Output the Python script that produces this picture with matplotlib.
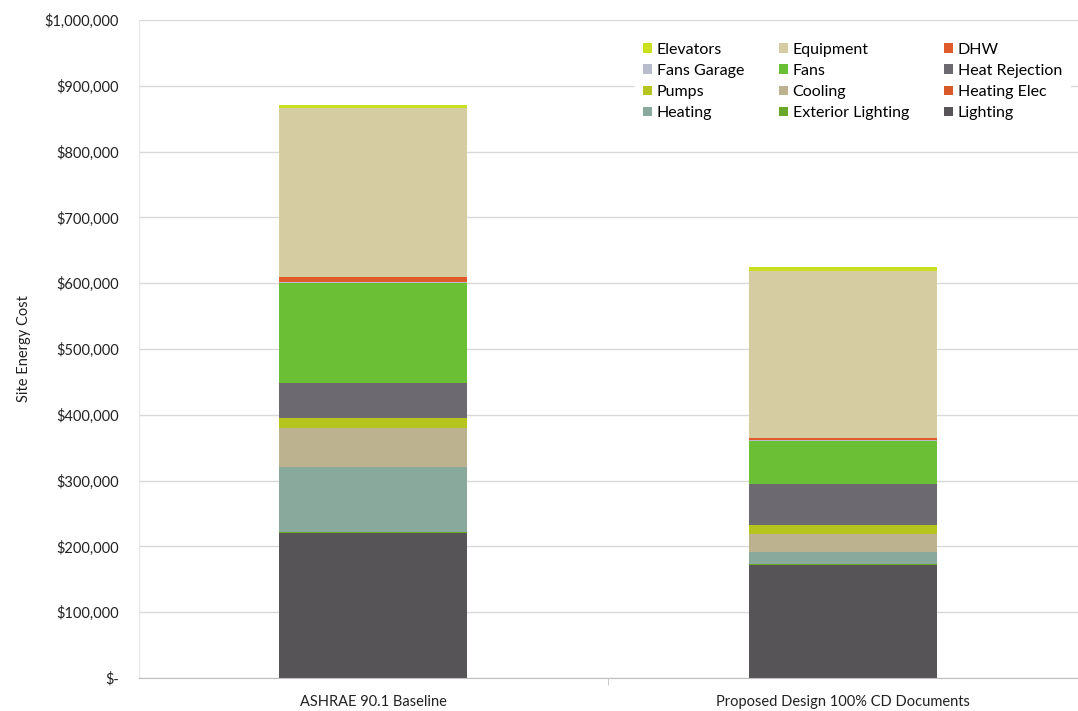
import numpy as np
import matplotlib.pyplot as plt
from matplotlib.ticker import FuncFormatter

plt.rcParams['font.family'] = ['Lato', 'DejaVu Sans']

scenarios = ['ASHRAE 90.1 Baseline', 'Proposed Design 100% CD Documents']

# end uses, bottom of the stack first
end_uses = ['Lighting', 'Exterior Lighting', 'Heating', 'Heating Elec', 'Cooling',
            'Pumps', 'Heat Rejection', 'Fans', 'Fans Garage', 'DHW', 'Equipment', 'Elevators']

# annual cost per end use ($), [baseline, proposed]
lighting = [220000, 172000]
exterior_lighting = [2500, 1000]
heating = [98000, 18000]
heating_elec = [500, 300]
cooling = [59000, 27000]
pumps = [15000, 14000]
heat_rejection = [53000, 62000]
fans = [152000, 66000]
fans_garage = [2000, 1000]
dhw = [8000, 4000]
equipment = [256000, 254000]
elevators = [5000, 5000]

series = [lighting, exterior_lighting, heating, heating_elec, cooling, pumps,
          heat_rejection, fans, fans_garage, dhw, equipment, elevators]

colors = ['#565456', '#6aa82a', '#8aa99d', '#d95a28', '#bdb290', '#b6c41e',
          '#6d6971', '#6abf35', '#b8bccc', '#e05a2a', '#d6cca2', '#c8e020']

fig = plt.figure(figsize=(10.78, 7.11), dpi=100)
ax = fig.add_axes([0.1285, 0.0464, 0.8715, 0.9254])

x = np.arange(len(scenarios))
bottom = np.zeros(len(scenarios))
handles = {}
for name, vals, col in zip(end_uses, series, colors):
    b = ax.bar(x, vals, 0.4, bottom=bottom, color=col, label=name, zorder=2)
    handles[name] = b
    bottom += np.array(vals)

ax.set_xlim(-0.5, 1.5)
ax.set_ylim(0, 1000000)
ax.set_yticks(np.arange(0, 1000001, 100000))
ax.yaxis.set_major_formatter(FuncFormatter(lambda v, p: '$-' if v == 0 else '${:,.0f}'.format(v)))
ax.grid(axis='y', color='#d9d9d9', linewidth=1, zorder=0)
ax.set_axisbelow(True)

ax.set_xticks(x)
ax.set_xticklabels(scenarios)
ax.set_xticks([0.5], minor=True)
ax.tick_params(axis='x', which='major', length=0, pad=12, labelsize=10.5, colors='#222222')
ax.tick_params(axis='x', which='minor', length=5, color='#bfbfbf')
ax.tick_params(axis='y', length=0, pad=14, labelsize=10.5, colors='#222222')

for s in ['top', 'right']:
    ax.spines[s].set_visible(False)
ax.spines['left'].set_color('#e6e6e6')
ax.spines['bottom'].set_color('#bfbfbf')

ax.set_ylabel('Site Energy Cost', fontsize=10.5, color='#222222', labelpad=10)

# legend laid out row by row like the source sheet
order = ['Elevators', 'Equipment', 'DHW', 'Fans Garage', 'Fans', 'Heat Rejection',
         'Pumps', 'Cooling', 'Heating Elec', 'Heating', 'Exterior Lighting', 'Lighting']
ncol = 3
col_major = [order[i] for c in range(ncol) for i in range(c, len(order), ncol)]
leg = ax.legend([handles[n] for n in col_major], col_major, ncol=ncol,
                loc='upper right', bbox_to_anchor=(1.0, 0.99), frameon=True,
                fontsize=11.5, handlelength=0.55, handleheight=0.55, handletextpad=0.3,
                columnspacing=2.2, labelspacing=0.45, borderpad=0.5)
leg.get_frame().set_facecolor('white')
leg.get_frame().set_edgecolor('white')
leg.get_frame().set_alpha(1)

fig.savefig('out.png', dpi=100)
